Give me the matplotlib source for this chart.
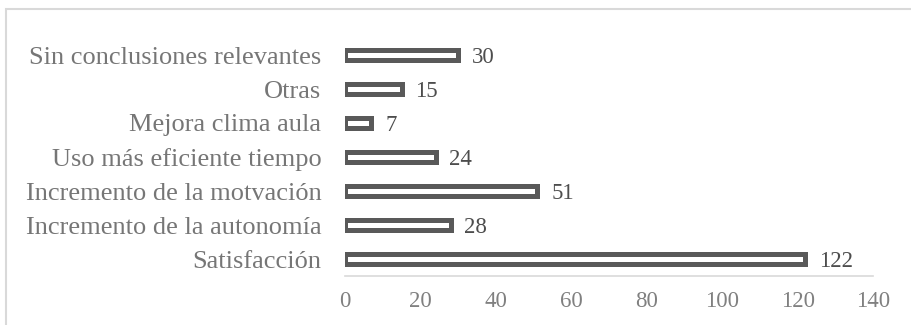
import matplotlib
matplotlib.use("Agg")
import matplotlib.pyplot as plt
from matplotlib.patches import Rectangle

categories = [
    "Satisfacción",
    "Incremento de la autonomía",
    "Incremento de la motvación",
    "Uso más eficiente tiempo",
    "Mejora clima aula",
    "Otras",
    "Sin conclusiones relevantes",
]
values = [122, 28, 51, 24, 7, 15, 30]
x_ticks = [0, 20, 40, 60, 80, 100, 120, 140]

plt.rcParams["font.family"] = ["Liberation Serif", "DejaVu Serif"]

fig = plt.figure(figsize=(9.11, 3.25), dpi=100)
W, H = 911, 325

# light outer chart frame
fig.patches.append(Rectangle((6 / W, -0.1), 1.2, (H - 9) / H + 0.1,
                             transform=fig.transFigure, fill=False,
                             edgecolor="#d9d9d9", linewidth=1.5))

ax = fig.add_axes([345 / W, 49 / H, 528 / W, 238 / H])

ypos = list(range(len(categories)))
ax.barh(ypos, values, height=0.29, color="white", edgecolor="#595959",
        linewidth=3.6)

for y, v in zip(ypos, values):
    ax.annotate(str(v), (v, y), xytext=(10, -1.5), textcoords="offset points",
                va="center", ha="left", fontsize=16.5, color="#4d4d4d")

ax.set_xlim(0, 140)
ax.set_ylim(-0.5, len(categories) - 0.5)
ax.set_xticks(x_ticks)
ax.set_xticklabels([str(t) for t in x_ticks])
ax.set_yticks(ypos)
ax.set_yticklabels(categories)

ax.tick_params(axis="x", length=0, pad=11, labelsize=16.5, labelcolor="#808080")
ax.tick_params(axis="y", length=0, pad=17, labelsize=19, labelcolor="#767676")

for side in ["top", "right", "left"]:
    ax.spines[side].set_visible(False)
ax.spines["bottom"].set_color("#d9d9d9")
ax.spines["bottom"].set_linewidth(1.2)

fig.savefig("out.png", dpi=100)
